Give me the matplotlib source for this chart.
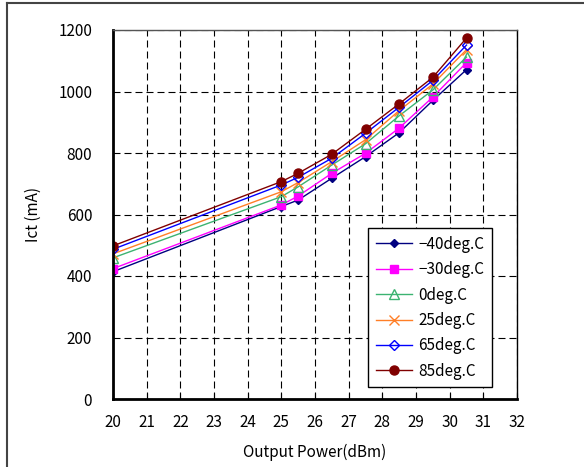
import matplotlib
matplotlib.use("Agg")
import matplotlib.pyplot as plt
from matplotlib.lines import Line2D

# -------- Data --------
power = [20, 25, 25.5, 26.5, 27.5, 28.5, 29.5, 30.5]

ict_m40 = [414, 626, 647, 718, 788, 866, 971, 1071]
ict_m30 = [424, 631, 660, 734, 799, 881, 982, 1094]
ict_0 = [459, 658, 690, 761, 830, 921, 1005, 1112]
ict_25 = [472, 674, 704, 772, 843, 938, 1024, 1136]
ict_65 = [487, 696, 721, 783, 864, 949, 1036, 1151]
ict_85 = [498, 707, 734, 796, 877, 960, 1046, 1174]

labels = ["\u221240deg.C", "\u221230deg.C", "0deg.C", "25deg.C", "65deg.C", "85deg.C"]
x_ticks = list(range(20, 33))
y_ticks = list(range(0, 1201, 200))

# -------- Styles --------
plt.rcParams['font.family'] = ['Noto Sans CJK JP', 'DejaVu Sans']
fs = 11

series = [
    (ict_m40, "#000080", "D", "#000080", 4),
    (ict_m30, "#ff00ff", "s", "#ff00ff", 5.5),
    (ict_0, "#3cb371", "^", "none", 6.5),
    (ict_25, "#ff7f27", "x", "#ff7f27", 6.5),
    (ict_65, "#0000ff", "D", "none", 5),
    (ict_85, "#800000", "o", "#800000", 6.5),
]

# -------- Figure --------
fig = plt.figure(figsize=(5.84, 4.67), dpi=100)
ax = fig.add_axes([113 / 584, 1 - 399 / 467, 404 / 584, 369 / 467])

for (vals, col, mk, face, ms), lab in zip(series, labels):
    ax.plot(power, vals, color=col, lw=1, marker=mk, markersize=ms,
            markerfacecolor=face, markeredgecolor=col, markeredgewidth=1,
            label=lab)

ax.set_xlim(20, 32)
ax.set_ylim(0, 1200)
ax.set_xticks(x_ticks)
ax.set_yticks(y_ticks)
ax.tick_params(axis='x', direction='in', length=4, pad=11, labelsize=fs)
ax.tick_params(axis='y', length=0, pad=15, labelsize=fs)
ax.grid(True, color='black', lw=0.8, linestyle=(0, (6.3, 3.6)))

ax.spines['left'].set_linewidth(2)
ax.spines['bottom'].set_linewidth(2)
ax.spines['top'].set_linewidth(1)
ax.spines['right'].set_linewidth(1)
ax.spines['top'].set_color('#555555')

ax.set_xlabel("Output Power(dBm)", fontsize=fs, labelpad=9)
ax.set_ylabel("Ict (mA)", fontsize=fs, labelpad=12)

leg = ax.legend(loc='upper left', bbox_to_anchor=(0.631, 0.463), fontsize=fs,
                fancybox=False, framealpha=1, edgecolor='black',
                handlelength=2.4, labelspacing=0.55, borderpad=0.5,
                handletextpad=0.4, borderaxespad=0)
leg.get_frame().set_linewidth(1)

# -------- Outer border --------
fig.add_artist(Line2D([7 / 584, 7 / 584], [0, 1 - 3 / 467], color='#444444', lw=1.5))
fig.add_artist(Line2D([7 / 584, 1], [1 - 3 / 467, 1 - 3 / 467], color='#444444', lw=1.5))

fig.savefig("out.png", dpi=100)
